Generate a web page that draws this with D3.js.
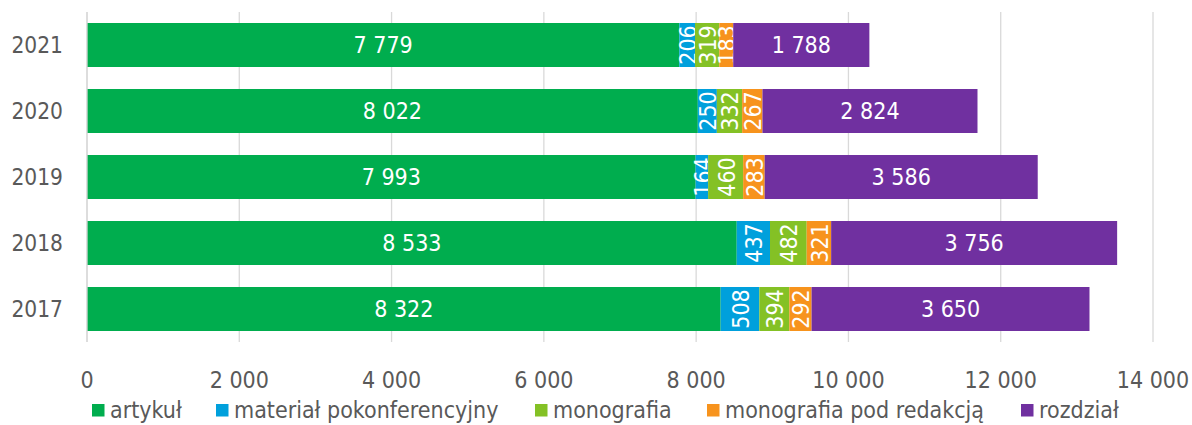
<!DOCTYPE html>
<html><head><meta charset="utf-8">
<script src="https://cdn.jsdelivr.net/npm/d3@7"></script>
<style>body{margin:0;background:#fff}svg{display:block}text{font-family:"DejaVu Sans Condensed","DejaVu Sans",sans-serif}</style>
</head><body>
<svg id="c" width="1192" height="425"></svg>
<script>
const years = ["2021","2020","2019","2018","2017"];
const seriesNames = ["artykuł","materiał pokonferencyjny","monografia","monografia pod redakcją","rozdział"];
const colors = ["#00AD4E","#00A0DC","#84C125","#F7931D","#7030A0"];
const artykul = [7779,8022,7993,8533,8322];
const material = [206,250,164,437,508];
const monografia = [319,332,460,482,394];
const monoRed = [183,267,283,321,292];
const rozdzial = [1788,2824,3586,3756,3650];
const xTicks = [0,2000,4000,6000,8000,10000,12000,14000];

const values = [artykul, material, monografia, monoRed, rozdzial];
const table = years.map((y,i)=>{const o={year:y}; seriesNames.forEach((s,j)=>o[s]=values[j][i]); return o;});
const stack = d3.stack().keys(seriesNames)(table);

const svg = d3.select("#c");
const x = d3.scaleLinear().domain([0,14000]).range([87,1153]);
const y = d3.scaleBand().domain(years).range([12,342]).paddingInner(1/3).paddingOuter(1/6);
const fmt = v => d3.format(",")(v).replace(/,/g," ");

svg.append("g").selectAll("line").data(xTicks).join("line")
  .attr("x1",d=>x(d)).attr("x2",d=>x(d)).attr("y1",12).attr("y2",342)
  .attr("stroke","#d9d9d9").attr("stroke-width",1.3);

const layers = svg.append("g").selectAll("g").data(stack).join("g").attr("fill",(d,i)=>colors[i]);
layers.selectAll("rect").data(d=>d).join("rect")
  .attr("x",d=>x(d[0])).attr("width",d=>x(d[1])-x(d[0]))
  .attr("y",d=>y(d.data.year)).attr("height",y.bandwidth());

layers.each(function(layer,li){
  d3.select(this).selectAll("text").data(layer).join("text")
    .attr("fill","#fff").attr("font-size",23).attr("text-anchor","middle").attr("dominant-baseline","central")
    .attr("transform",d=>{
      const cx=(x(d[0])+x(d[1]))/2, cy=y(d.data.year)+y.bandwidth()/2;
      return (d[1]-d[0])<1000 ? `translate(${cx+1},${cy}) rotate(-90)` : `translate(${cx},${cy})`;
    })
    .text(d=>fmt(d[1]-d[0]));
});

svg.append("line").attr("x1",x(0)).attr("x2",x(0)).attr("y1",12).attr("y2",342).attr("stroke","#d9d9d9").attr("stroke-width",1.3);

svg.append("g").selectAll("text").data(years).join("text")
  .attr("x",63).attr("y",d=>y(d)+y.bandwidth()/2).attr("text-anchor","end").attr("dominant-baseline","central")
  .attr("font-size",22.5).attr("fill","#595959").text(d=>d);

svg.append("g").selectAll("text").data(xTicks).join("text")
  .attr("x",d=>x(d)).attr("y",380).attr("text-anchor","middle").attr("dominant-baseline","central")
  .attr("font-size",23).attr("fill","#595959").text(fmt);

const legX = [92,216,535,707,1021];
const leg = svg.append("g").selectAll("g").data(seriesNames).join("g")
  .attr("transform",(d,i)=>`translate(${legX[i]},410)`);
leg.append("rect").attr("x",0).attr("y",-6).attr("width",12.5).attr("height",12.5).attr("fill",(d,i)=>colors[i]);
leg.append("text").attr("x",18).attr("y",0).attr("dominant-baseline","central").attr("font-size",23).attr("fill","#595959").text(d=>d);
</script>
</body></html>
